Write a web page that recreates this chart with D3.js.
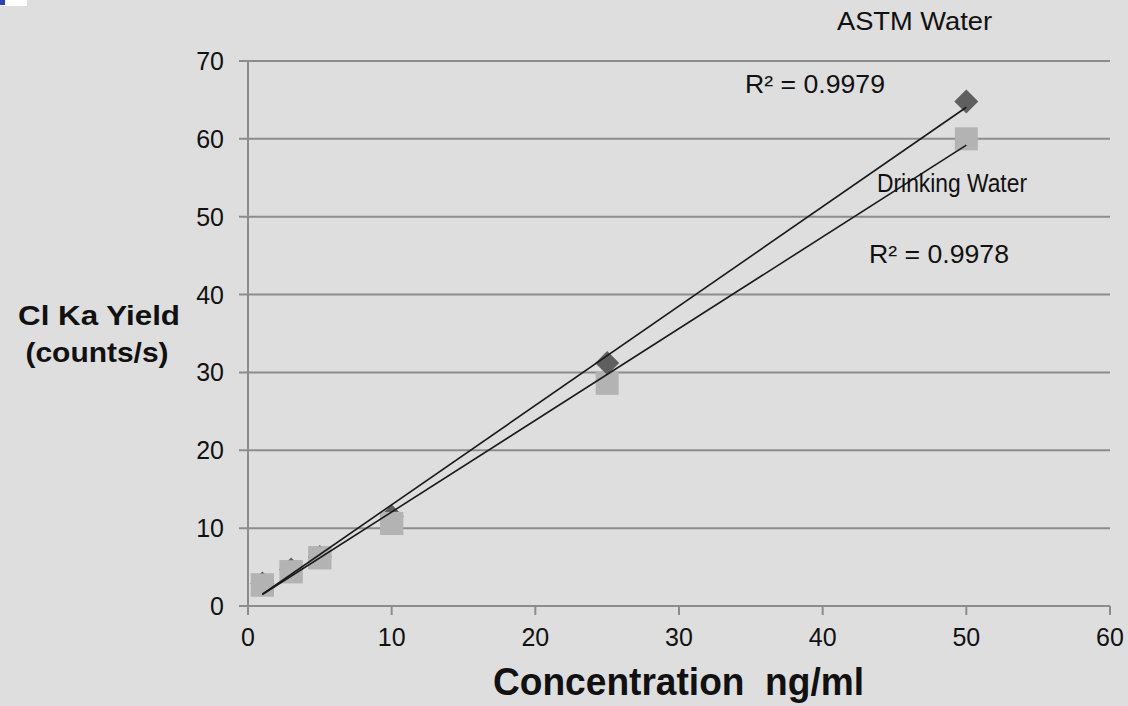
<!DOCTYPE html>
<html>
<head>
<meta charset="utf-8">
<script src="https://cdn.jsdelivr.net/npm/d3@7"></script>
<style>
  html, body { margin: 0; padding: 0; background: #dedede; }
  svg { display: block; font-family: "Liberation Sans", Arial, sans-serif; }
</style>
</head>
<body>
<svg id="chart" width="1128" height="706"></svg>
<script>
// Concentrations (ng/ml) and Cl Ka yields (counts/s)
const concentrations = [1, 3, 5, 10, 25, 50];
const astmWater = [2.9, 4.7, 6.3, 11.5, 31.2, 64.8];
const drinkingWater = [2.7, 4.4, 6.2, 10.6, 28.6, 60.0];
const xTicks = [0, 10, 20, 30, 40, 50, 60];
const yTicks = [0, 10, 20, 30, 40, 50, 60, 70];
const r2Labels = ["R² = 0.9979", "R² = 0.9978"];
const seriesNames = ["ASTM Water", "Drinking Water"];

const svg = d3.select("#chart");
const W = 1128, H = 706;

svg.append("rect").attr("width", W).attr("height", H).attr("fill", "#dedede");
// small corner fragment
svg.append("rect").attr("x", 0).attr("y", 0).attr("width", 27).attr("height", 6).attr("fill", "#ffffff");
svg.append("rect").attr("x", 0).attr("y", 0).attr("width", 5).attr("height", 5).attr("fill", "#3040b0");

const x = d3.scaleLinear().domain([0, 60]).range([248, 1110]);
const y = d3.scaleLinear().domain([0, 70]).range([606, 61]);

const gridColor = "#8c8c8c";

// horizontal gridlines with left tick stubs
svg.append("g").selectAll("line").data(yTicks).join("line")
  .attr("x1", 239).attr("x2", x(60))
  .attr("y1", d => y(d)).attr("y2", d => y(d))
  .attr("stroke", gridColor).attr("stroke-width", 2);

// vertical axis
svg.append("line")
  .attr("x1", x(0)).attr("x2", x(0)).attr("y1", y(70)).attr("y2", y(0) + 9)
  .attr("stroke", gridColor).attr("stroke-width", 2);

// x tick marks below the baseline
svg.append("g").selectAll("line").data(xTicks.slice(1)).join("line")
  .attr("x1", d => x(d)).attr("x2", d => x(d))
  .attr("y1", y(0)).attr("y2", y(0) + 9)
  .attr("stroke", gridColor).attr("stroke-width", 2);

// tick labels
svg.append("g").selectAll("text").data(yTicks).join("text")
  .attr("x", 224).attr("y", d => y(d)).attr("dy", "0.36em")
  .attr("text-anchor", "end").attr("font-size", 25).attr("fill", "#111")
  .text(d => d);
svg.append("g").selectAll("text").data(xTicks).join("text")
  .attr("x", d => x(d)).attr("y", 637).attr("dy", "0.36em")
  .attr("text-anchor", "middle").attr("font-size", 25).attr("fill", "#111")
  .text(d => d);

// text helper: fixed width via textLength
function label(tx, ty, t, size, width, opts = {}) {
  const el = svg.append("text").attr("x", tx).attr("y", ty)
    .attr("font-size", size).attr("fill", "#111")
    .attr("text-anchor", opts.anchor || "start")
    .attr("textLength", width).attr("lengthAdjust", "spacingAndGlyphs")
    .text(t);
  if (opts.bold) el.attr("font-weight", "bold");
  return el;
}

// axis titles
label(99, 325, "Cl Ka Yield", 28, 162, { bold: true, anchor: "middle" });
label(97, 362, "(counts/s)", 28, 143, { bold: true, anchor: "middle" });
label(493, 695, "Concentration\u00a0\u00a0ng/ml", 38, 371, { bold: true });

// least-squares fit
function fit(xs, ys) {
  const mx = d3.mean(xs), my = d3.mean(ys);
  let sxy = 0, sxx = 0;
  xs.forEach((xi, i) => { sxy += (xi - mx) * (ys[i] - my); sxx += (xi - mx) ** 2; });
  const m = sxy / sxx;
  return { m, b: my - m * mx };
}

const pts = (vals) => concentrations.map((c, i) => ({ c, v: vals[i] }));

// Drinking Water squares
svg.append("g").selectAll("rect").data(pts(drinkingWater)).join("rect")
  .attr("x", d => x(d.c) - 11.5).attr("y", d => y(d.v) - 11.5)
  .attr("width", 23).attr("height", 23)
  .attr("fill", "#b3b3b3");

// ASTM Water diamonds
svg.append("g").selectAll("path").data(pts(astmWater)).join("path")
  .attr("d", d => {
    const cx = x(d.c), cy = y(d.v), r = 12;
    return `M${cx},${cy - r}L${cx + r},${cy}L${cx},${cy + r}L${cx - r},${cy}Z`;
  })
  .attr("fill", "#5f5f5f");

// squares for the low points sit over the diamonds
svg.append("g").selectAll("rect").data(pts(drinkingWater).slice(0, 4)).join("rect")
  .attr("x", d => x(d.c) - 11.5).attr("y", d => y(d.v) - 11.5)
  .attr("width", 23).attr("height", 23)
  .attr("fill", "#b3b3b3");

// trendlines
[astmWater, drinkingWater].forEach(vals => {
  const f = fit(concentrations, vals);
  const x0 = d3.min(concentrations), x1 = d3.max(concentrations);
  svg.append("line")
    .attr("x1", x(x0)).attr("y1", y(f.m * x0 + f.b))
    .attr("x2", x(x1)).attr("y2", y(f.m * x1 + f.b))
    .attr("stroke", "#1a1a1a").attr("stroke-width", 1.6);
});

// series and R² labels
label(837, 30, seriesNames[0], 25, 155);
label(745, 93, r2Labels[0], 25, 140);
label(877, 192, seriesNames[1], 25, 150);
label(869, 263, r2Labels[1], 25, 140);
</script>
</body>
</html>
